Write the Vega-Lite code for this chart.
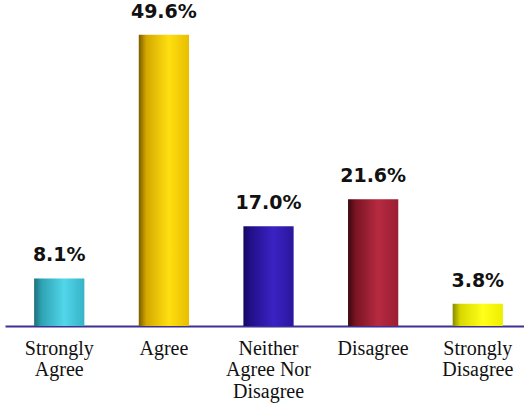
{
  "$schema": "https://vega.github.io/schema/vega-lite/v6.json",
  "width": 519,
  "height": 323,
  "autosize": {"type": "none"},
  "padding": {"left": 5, "top": 3, "right": 0, "bottom": 79},
  "background": "white",
  "config": {"view": {"stroke": null}},
  "data": {
    "values": [
      {"category": "Strongly Agree", "pct": 8.1},
      {"category": "Agree", "pct": 49.6},
      {"category": "Neither Agree Nor Disagree", "pct": 17.0},
      {"category": "Disagree", "pct": 21.6},
      {"category": "Strongly Disagree", "pct": 3.8}
    ]
  },
  "encoding": {
    "x": {
      "field": "category",
      "type": "nominal",
      "sort": null,
      "scale": {"paddingInner": 0.52, "paddingOuter": 0.24, "align": 0.58},
      "axis": {
        "title": null,
        "labelAngle": 0,
        "ticks": false,
        "domainColor": "#3d2f96",
        "domainWidth": 2,
        "labelFont": "Liberation Serif",
        "labelFontSize": 20,
        "labelColor": "#111111",
        "labelLineHeight": 21.5,
        "labelPadding": 12,
        "labelBaseline": "top",
        "labelExpr": "datum.value == 'Strongly Agree' ? ['Strongly', 'Agree'] : datum.value == 'Neither Agree Nor Disagree' ? ['Neither', 'Agree Nor', 'Disagree'] : datum.value == 'Strongly Disagree' ? ['Strongly', 'Disagree'] : datum.value"
      }
    },
    "y": {
      "field": "pct",
      "type": "quantitative",
      "scale": {"domain": [0, 55], "nice": false},
      "axis": null
    }
  },
  "layer": [
    {
      "mark": {"type": "bar"},
      "encoding": {
        "fill": {
          "condition": [
            {"test": "datum.category == 'Strongly Agree'", "value": {"gradient": "linear", "x1": 0, "x2": 1, "y1": 0, "y2": 0, "stops": [{"offset": 0, "color": "#1d6f7a"}, {"offset": 0.15, "color": "#2ea3b4"}, {"offset": 0.6, "color": "#52d6ea"}, {"offset": 1, "color": "#36b2c6"}]}},
            {"test": "datum.category == 'Agree'", "value": {"gradient": "linear", "x1": 0, "x2": 1, "y1": 0, "y2": 0, "stops": [{"offset": 0, "color": "#7a5c00"}, {"offset": 0.15, "color": "#d4a800"}, {"offset": 0.6, "color": "#ffdf10"}, {"offset": 1, "color": "#e8be00"}]}},
            {"test": "datum.category == 'Neither Agree Nor Disagree'", "value": {"gradient": "linear", "x1": 0, "x2": 1, "y1": 0, "y2": 0, "stops": [{"offset": 0, "color": "#140860"}, {"offset": 0.15, "color": "#22108a"}, {"offset": 0.6, "color": "#3b22c4"}, {"offset": 1, "color": "#2a169c"}]}},
            {"test": "datum.category == 'Disagree'", "value": {"gradient": "linear", "x1": 0, "x2": 1, "y1": 0, "y2": 0, "stops": [{"offset": 0, "color": "#3a0810"}, {"offset": 0.15, "color": "#7a1424"}, {"offset": 0.6, "color": "#b72a40"}, {"offset": 1, "color": "#9a1e32"}]}}
          ],
          "value": {"gradient": "linear", "x1": 0, "x2": 1, "y1": 0, "y2": 0, "stops": [{"offset": 0, "color": "#8a8a00"}, {"offset": 0.15, "color": "#d8d800"}, {"offset": 0.6, "color": "#ffff1a"}, {"offset": 1, "color": "#eeee00"}]}
        }
      }
    },
    {
      "mark": {"type": "text", "font": "DejaVu Sans", "fontWeight": "bold", "fontSize": 19, "color": "#111111", "baseline": "alphabetic", "dy": -17, "text": {"expr": "format(datum.pct, '.1f') + '%'"}},
      "encoding": {}
    }
  ]
}
